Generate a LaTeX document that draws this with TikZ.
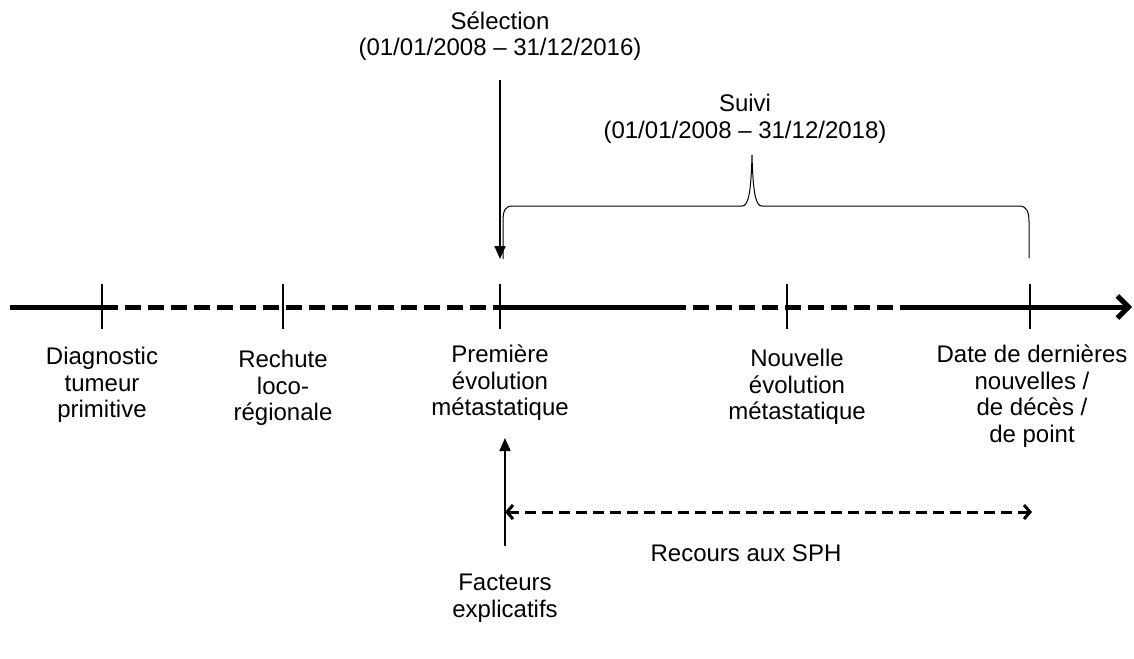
\documentclass[tikz,border=0pt]{standalone}
\usepackage{fontspec}
\setmainfont{Liberation Sans}
\usetikzlibrary{arrows.meta}
\begin{document}
\begin{tikzpicture}[x=1pt,y=-1pt,
  lbl/.style={align=center,inner sep=0pt,font=\fontsize{24}{26.5}\selectfont},
  axis/.style={line width=5pt},
  axisdash/.style={line width=5pt,dash pattern=on 16pt off 7pt},
  tickmark/.style={line width=1.3pt},
  thinline/.style={line width=1.8pt}]
\useasboundingbox (0,0) rectangle (1134,658);
% timeline coordinates
\coordinate (t0) at (10,307);
\coordinate (d1) at (102,307);
\coordinate (d2) at (283,307);
\coordinate (d3) at (500,307);
\coordinate (s1) at (670,307);
\coordinate (d4) at (787,307);
\coordinate (s2) at (907,307);
\coordinate (d5) at (1030,307);
\coordinate (tend) at (1132,307);
% axis segments
\draw[axis] (t0) -- (d1);
\draw[axisdash] (d1) -- (d3);
\draw[axis] (d3) -- (s1);
\draw[axisdash] (s1) -- (s2);
\draw[axis,-{Straight Barb[length=11pt,width=22pt]}] (s2) -- (tend);
% ticks
\foreach \c in {d1,d2,d3,d4,d5}{
  \draw[tickmark] ([yshift=-22pt]\c) -- ([yshift=23pt]\c);
}
% labels below
\node[lbl] (diag) at (102,385) {Diagnostic\\tumeur\\primitive};
\node[lbl] (rech) at (283,388) {Rechute\\loco-\\régionale};
\node[lbl] (prem) at (500,383) {Première\\évolution\\métastatique};
\node[lbl] (nouv) at (797,387) {Nouvelle\\évolution\\métastatique};
\node[lbl] (date) at (1032,396) {Date de dernières\\nouvelles /\\de décès /\\de point};
% selection
\node[lbl] (sel) at (500,36) {Sélection\\(01/01/2008 – 31/12/2016)};
\coordinate (selA) at (500,80);
\coordinate (selB) at (500,259);
\draw[thinline,-{Triangle[length=13pt,width=11pt]}] (selA) -- (selB);
% suivi
\node[lbl] (suivi) at (745,119) {Suivi\\(01/01/2008 – 31/12/2018)};
\coordinate (bL) at (503,259);
\coordinate (bR) at (1029,258);
\coordinate (bP) at (752,155);
\draw[line width=1pt] (bL) -- (503,222) .. controls (503,210) and (505,206) .. (513,206)
  -- (742,206) .. controls (748,206) and (751,195) .. (bP)
  .. controls (753,195) and (756,206) .. (762,206)
  -- (1019,206) .. controls (1027,206) and (1029,212) .. (1029,222) -- (bR);
% facteurs
\node[lbl] (fact) at (505,598) {Facteurs\\explicatifs};
\coordinate (fA) at (505,546);
\coordinate (fB) at (505,438);
\draw[thinline,-{Triangle[length=13pt,width=11pt]}] (fA) -- (fB);
% recours
\coordinate (rA) at (505,512);
\coordinate (rB) at (1032,512);
\draw[line width=3pt,dash pattern=on 11pt off 6pt,{Straight Barb[length=6pt,width=14pt]}-{Straight Barb[length=6pt,width=14pt]}] (rA) -- (rB);
\node[lbl] (rec) at (746,553) {Recours aux SPH};
\end{tikzpicture}
\end{document}
